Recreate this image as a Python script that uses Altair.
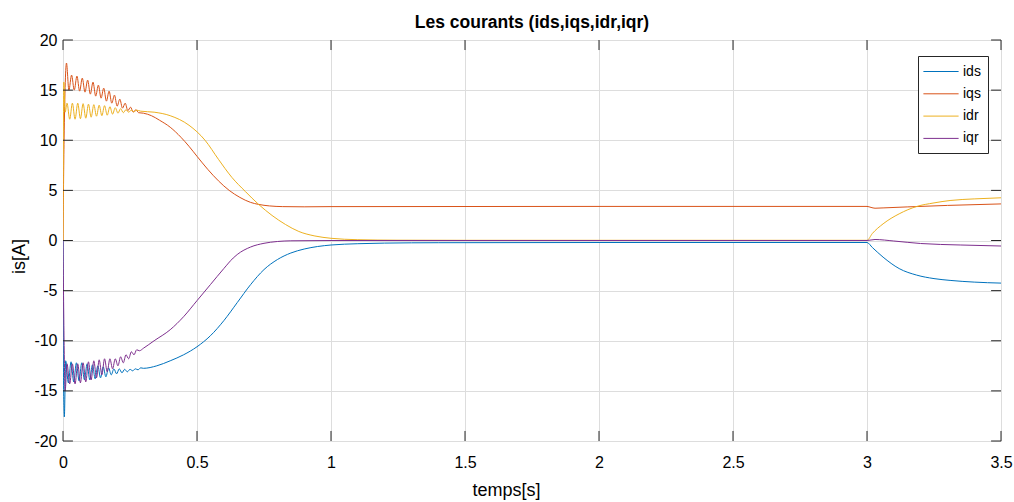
import altair as alt
import pandas as pd

# ---- data ----
series_names = ["ids", "iqs", "idr", "iqr"]
series_colors = ["#0072BD", "#D95319", "#EDB120", "#7E2F8E"]

ids_t = [0.0, 0.002, 0.005, 0.01, 0.02, 0.03, 0.04, 0.05, 0.06, 0.07, 0.08, 0.09, 0.10,
         0.11, 0.12, 0.13, 0.14, 0.15, 0.16, 0.17, 0.18, 0.19, 0.20, 0.21, 0.22, 0.23,
         0.24, 0.25, 0.26, 0.27, 0.28, 0.29, 0.30, 0.35, 0.40, 0.45, 0.50, 0.55, 0.60,
         0.65, 0.70, 0.75, 0.80, 0.85, 0.90, 0.95, 1.00, 1.10, 1.20, 1.40, 2.00, 3.00,
         3.02, 3.06, 3.12, 3.185, 3.25, 3.31, 3.40, 3.50]
ids_v = [0, -14.0, -17.6, -12.0, -14.2, -12.1, -14.1, -12.2, -14.0, -12.2, -13.9, -12.3,
         -13.9, -12.4, -13.8, -12.5, -13.7, -12.6, -13.6, -12.7, -13.4, -12.8, -13.3,
         -12.8, -13.2, -12.85, -13.1, -12.85, -13.0, -12.8, -12.9, -12.7, -12.75, -12.5,
         -12.0, -11.4, -10.6, -9.5, -8.0, -6.2, -4.4, -2.9, -1.9, -1.25, -0.85, -0.6,
         -0.45, -0.32, -0.26, -0.22, -0.2, -0.2, -0.7, -1.66, -2.8, -3.45, -3.8, -3.98,
         -4.15, -4.25]

iqs_t = [0.0, 0.004, 0.013, 0.022, 0.032, 0.042, 0.052, 0.062, 0.072, 0.082, 0.092,
         0.102, 0.112, 0.122, 0.132, 0.142, 0.152, 0.162, 0.172, 0.182, 0.192, 0.202,
         0.212, 0.222, 0.232, 0.242, 0.252, 0.262, 0.272, 0.282, 0.30, 0.33, 0.36, 0.40,
         0.44, 0.47, 0.50, 0.54, 0.58, 0.62, 0.66, 0.70, 0.73, 0.77, 0.82, 0.90, 1.00,
         2.00, 3.00, 3.015, 3.03, 3.06, 3.15, 3.30, 3.50]
iqs_v = [0, 10.0, 17.7, 15.0, 16.5, 15.0, 16.4, 14.9, 16.2, 14.8, 16.0, 14.6, 15.8, 14.4,
         15.5, 14.2, 15.2, 13.9, 14.9, 13.7, 14.5, 13.4, 14.1, 13.2, 13.7, 12.95, 13.3,
         12.8, 13.05, 12.75, 12.7, 12.45, 12.0, 11.3, 10.3, 9.4, 8.4, 7.1, 5.95, 5.0, 4.3,
         3.8, 3.6, 3.45, 3.38, 3.36, 3.38, 3.4, 3.4, 3.3, 3.22, 3.25, 3.35, 3.5, 3.65]

idr_t = [0.0, 0.003, 0.008, 0.015, 0.025, 0.035, 0.045, 0.055, 0.065, 0.075, 0.085,
         0.095, 0.105, 0.115, 0.125, 0.135, 0.145, 0.155, 0.165, 0.175, 0.185, 0.195,
         0.205, 0.215, 0.225, 0.235, 0.245, 0.255, 0.265, 0.275, 0.29, 0.34, 0.40, 0.47,
         0.53, 0.58, 0.63, 0.68, 0.73, 0.78, 0.83, 0.88, 0.94, 1.00, 1.10, 1.25, 1.50,
         3.00, 3.02, 3.06, 3.12, 3.185, 3.25, 3.31, 3.40, 3.50]
idr_v = [0, 15.8, 12.8, 13.7, 12.1, 13.7, 12.1, 13.7, 12.15, 13.65, 12.2, 13.6, 12.3,
         13.55, 12.4, 13.5, 12.45, 13.45, 12.5, 13.35, 12.6, 13.25, 12.7, 13.15, 12.75,
         13.05, 12.8, 13.0, 12.85, 13.0, 12.9, 12.8, 12.45, 11.5, 10.0, 8.1, 6.3, 4.9,
         3.6, 2.5, 1.6, 0.9, 0.45, 0.22, 0.08, 0.03, 0.02, 0.02, 0.7, 1.66, 2.66, 3.39,
         3.75, 3.99, 4.15, 4.26]

iqr_t = [0.0, 0.004, 0.008, 0.015, 0.025, 0.035, 0.045, 0.055, 0.065, 0.075, 0.085,
         0.095, 0.105, 0.115, 0.125, 0.135, 0.145, 0.155, 0.165, 0.175, 0.185, 0.195,
         0.205, 0.215, 0.225, 0.235, 0.245, 0.255, 0.265, 0.275, 0.285, 0.30, 0.34, 0.40,
         0.45, 0.50, 0.55, 0.60, 0.635, 0.65, 0.70, 0.75, 0.80, 0.85, 1.00, 3.00, 3.03,
         3.10, 3.20, 3.35, 3.50]
iqr_v = [0, -10.0, -15.0, -12.3, -14.3, -12.3, -14.3, -12.3, -14.2, -12.2, -14.1, -12.1,
         -13.9, -12.0, -13.7, -11.9, -13.4, -11.8, -13.1, -11.8, -12.8, -11.8, -12.5,
         -11.6, -12.2, -11.4, -11.8, -11.1, -11.4, -10.9, -11.0, -10.75, -10.0, -8.9,
         -7.6, -6.0, -4.4, -2.8, -1.75, -1.4, -0.65, -0.28, -0.1, -0.03, 0.0, 0.0, 0.1,
         -0.05, -0.3, -0.45, -0.55]

x_ticks = [0, 0.5, 1, 1.5, 2, 2.5, 3, 3.5]
y_ticks = [-20, -15, -10, -5, 0, 5, 10, 15, 20]

# ---- tables ----
rows = []
for name, ts, vs in [("ids", ids_t, ids_v), ("iqs", iqs_t, iqs_v),
                     ("idr", idr_t, idr_v), ("iqr", iqr_t, iqr_v)]:
    for t, v in zip(ts, vs):
        rows.append({"serie": name, "t": t, "v": v})
df = pd.DataFrame(rows)
xt_df = pd.DataFrame({"t": x_ticks})
yt_df = pd.DataFrame({"v": y_ticks})

FONT = "Liberation Sans"
DARK = "#262626"
X_MIN, X_MAX = x_ticks[0], x_ticks[-1]
Y_MIN, Y_MAX = y_ticks[0], y_ticks[-1]
# inward tick length, about 10 px, expressed in axis units
TICK_Y = 1.0
TICK_X = 0.037

xscale = alt.Scale(domain=[X_MIN, X_MAX], nice=False, zero=False)
yscale = alt.Scale(domain=[Y_MIN, Y_MAX], nice=False, zero=False)

xaxis = alt.Axis(values=x_ticks, labelExpr="'' + datum.value", grid=True, ticks=False,
                 tickSize=0, domain=False, labelPadding=13, labelFontSize=16,
                 labelFlush=False, title="temps[s]", titleFontSize=18,
                 titleFontWeight="normal", titlePadding=11, titleX=443)
yaxis = alt.Axis(values=y_ticks, labelExpr="'' + datum.value", grid=True, ticks=False,
                 tickSize=0, domain=False, labelPadding=6, labelFontSize=16,
                 labelFlush=False, title="is[A]", titleFontSize=18,
                 titleFontWeight="normal", titlePadding=5, titleY=216)

lines = alt.Chart(df).mark_line(strokeWidth=1, interpolate="monotone", clip=True).encode(
    x=alt.X("t:Q", scale=xscale, axis=xaxis),
    y=alt.Y("v:Q", scale=yscale, axis=yaxis),
    color=alt.Color("serie:N",
                    scale=alt.Scale(domain=series_names, range=series_colors),
                    sort=series_names,
                    legend=alt.Legend(title=None, orient="none", legendX=855, legendY=16,
                                      symbolType="M-2.2,0H2.2", symbolSize=256,
                                      symbolStrokeWidth=1, symbolOffset=7.5,
                                      labelOffset=13.5, rowPadding=6.3, padding=7,
                                      labelFontSize=14, labelFont=FONT,
                                      labelColor="#000000", strokeColor=DARK,
                                      fillColor="white", cornerRadius=0)),
    order=alt.Order("t:Q"),
)

rule_kw = dict(color=DARK, strokeWidth=1)
bottom_ticks = alt.Chart(xt_df).mark_rule(**rule_kw).encode(
    x=alt.X("t:Q", scale=xscale, axis=xaxis),
    y=alt.datum(Y_MIN), y2=alt.datum(Y_MIN + TICK_Y))
top_ticks = alt.Chart(xt_df).mark_rule(**rule_kw).encode(
    x=alt.X("t:Q", scale=xscale, axis=xaxis),
    y=alt.datum(Y_MAX), y2=alt.datum(Y_MAX - TICK_Y))
left_ticks = alt.Chart(yt_df).mark_rule(**rule_kw).encode(
    y=alt.Y("v:Q", scale=yscale, axis=yaxis),
    x=alt.datum(X_MIN), x2=alt.datum(X_MIN + TICK_X))
right_ticks = alt.Chart(yt_df).mark_rule(**rule_kw).encode(
    y=alt.Y("v:Q", scale=yscale, axis=yaxis),
    x=alt.datum(X_MAX), x2=alt.datum(X_MAX - TICK_X))

chart = alt.layer(lines, bottom_ticks, top_ticks, left_ticks, right_ticks).properties(
    width=938, height=401,
    padding={"left": 63, "top": 40, "right": 13, "bottom": 61},
    autosize=alt.AutoSizeParams(type="none"),
    title=alt.TitleParams("Les courants (ids,iqs,idr,iqr)", fontSize=17.5,
                          fontWeight="bold", font=FONT, color="#000000", offset=1,
                          anchor="middle"),
).configure_view(stroke=DARK, strokeWidth=1).configure_axis(
    labelFont=FONT, titleFont=FONT, labelColor=DARK, titleColor=DARK,
    gridColor="#dfdfdf", gridWidth=1,
).configure(background="white")

chart.save("out.html", embed_options={"renderer": "svg", "actions": False})
